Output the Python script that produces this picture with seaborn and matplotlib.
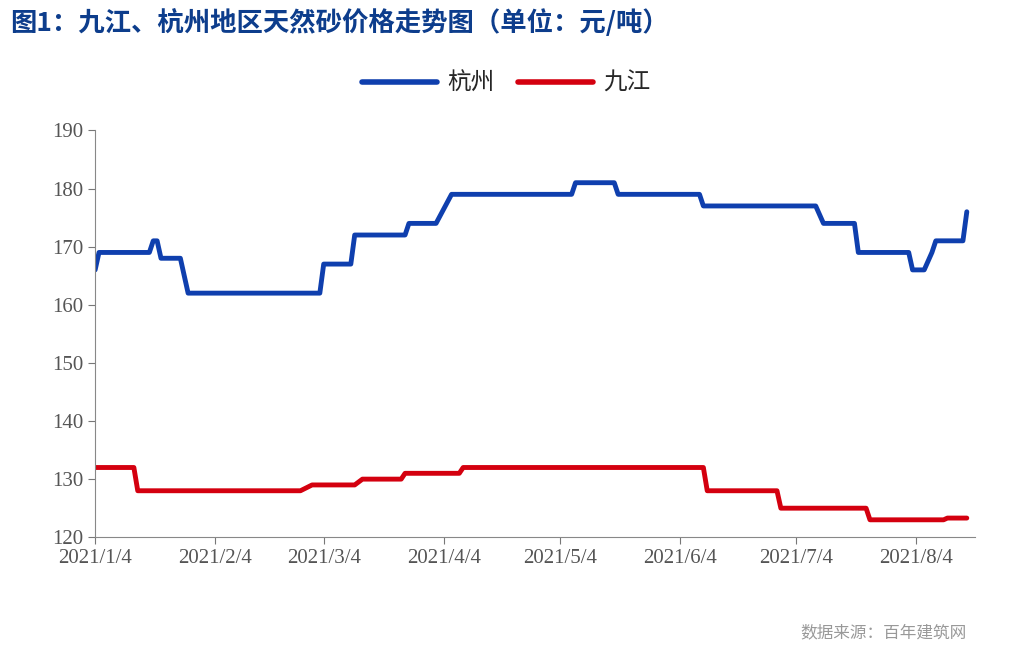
import matplotlib
matplotlib.use("Agg")
import matplotlib.pyplot as plt
import pandas as pd
import seaborn as sns
from matplotlib.lines import Line2D

# 杭州 price steps (元/吨)
hz_dates = ["2021-01-04", "2021-01-05", "2021-01-18", "2021-01-19", "2021-01-20", "2021-01-21",
            "2021-01-26", "2021-01-28", "2021-03-03", "2021-03-04", "2021-03-11", "2021-03-12",
            "2021-03-25", "2021-03-26", "2021-04-02", "2021-04-06", "2021-05-07", "2021-05-08",
            "2021-05-18", "2021-05-19", "2021-06-09", "2021-06-10", "2021-07-09", "2021-07-11",
            "2021-07-19", "2021-07-20", "2021-08-02", "2021-08-03", "2021-08-06", "2021-08-08",
            "2021-08-09", "2021-08-16", "2021-08-17"]
hz_values = [166, 169, 169, 171, 171, 168, 168, 162, 162, 167, 167, 172, 172, 174, 174, 179,
             179, 181, 181, 179, 179, 177, 177, 174, 174, 169, 169, 166, 166, 169, 171, 171, 176]

# 九江 price steps
jj_dates = ["2021-01-04", "2021-01-14", "2021-01-15", "2021-02-26", "2021-03-01", "2021-03-12",
            "2021-03-14", "2021-03-24", "2021-03-25", "2021-04-08", "2021-04-09", "2021-06-10",
            "2021-06-11", "2021-06-29", "2021-06-30", "2021-07-22", "2021-07-23", "2021-08-11",
            "2021-08-12", "2021-08-17"]
jj_values = [132, 132, 128, 128, 129, 129, 130, 130, 131, 131, 132, 132, 128, 128, 125, 125,
             123, 123, 123.3, 123.3]

tick_dates = ["2021-01-04", "2021-02-04", "2021-03-04", "2021-04-04", "2021-05-04",
              "2021-06-04", "2021-07-04", "2021-08-04"]

sns.set_style("white")
plt.rcParams["font.family"] = ["Noto Sans CJK SC", "DejaVu Sans"]

df = pd.concat([
    pd.DataFrame({"date": pd.to_datetime(hz_dates), "price": hz_values, "region": "杭州"}),
    pd.DataFrame({"date": pd.to_datetime(jj_dates), "price": jj_values, "region": "九江"}),
])

fig = plt.figure(figsize=(10.12, 6.52), dpi=100)
ax = fig.add_axes([0.094, 0.176, 0.869, 0.624])
sns.lineplot(data=df, x="date", y="price", hue="region", palette={"杭州": "#0f3fae", "九江": "#d4000f"},
             linewidth=3.5, ax=ax, legend=False)

ax.set_xlim(pd.Timestamp("2021-01-04"), pd.Timestamp("2021-08-19"))
ax.set_ylim(120, 190)
ax.set_yticks(range(120, 191, 10))
ticks = pd.to_datetime(tick_dates)
ax.set_xticks(ticks)
ax.set_xticklabels([f"{d.year}/{d.month}/{d.day}" for d in ticks])
ax.tick_params(axis="both", labelsize=15, colors="#555555", length=5, direction="out")
ax.tick_params(axis="both", color="#777777", left=True, bottom=True)
for lab in ax.get_xticklabels() + ax.get_yticklabels():
    lab.set_family(["Liberation Serif"])
ax.set_xlabel(""); ax.set_ylabel("")
for side in ["top", "right"]:
    ax.spines[side].set_visible(False)
for side in ["left", "bottom"]:
    ax.spines[side].set_color("#888888")

handles = [Line2D([], [], color="#0f3fae", lw=4), Line2D([], [], color="#d4000f", lw=4)]
fig.legend(handles, ["杭州", "九江"], loc="center", bbox_to_anchor=(0.5, 0.872), ncol=2, frameon=False,
           fontsize=17, handlelength=3.2, columnspacing=1.0, handletextpad=0.4)

fig.text(0.01, 0.965, "图1：九江、杭州地区天然砂价格走势图（单位：元/吨）", fontsize=19, fontweight="bold",
         color="#0d3d8c", va="center")
fig.text(0.955, 0.03, "数据来源：百年建筑网", fontsize=12, color="#999999", ha="right", va="center")

fig.savefig("out.png", dpi=100)
